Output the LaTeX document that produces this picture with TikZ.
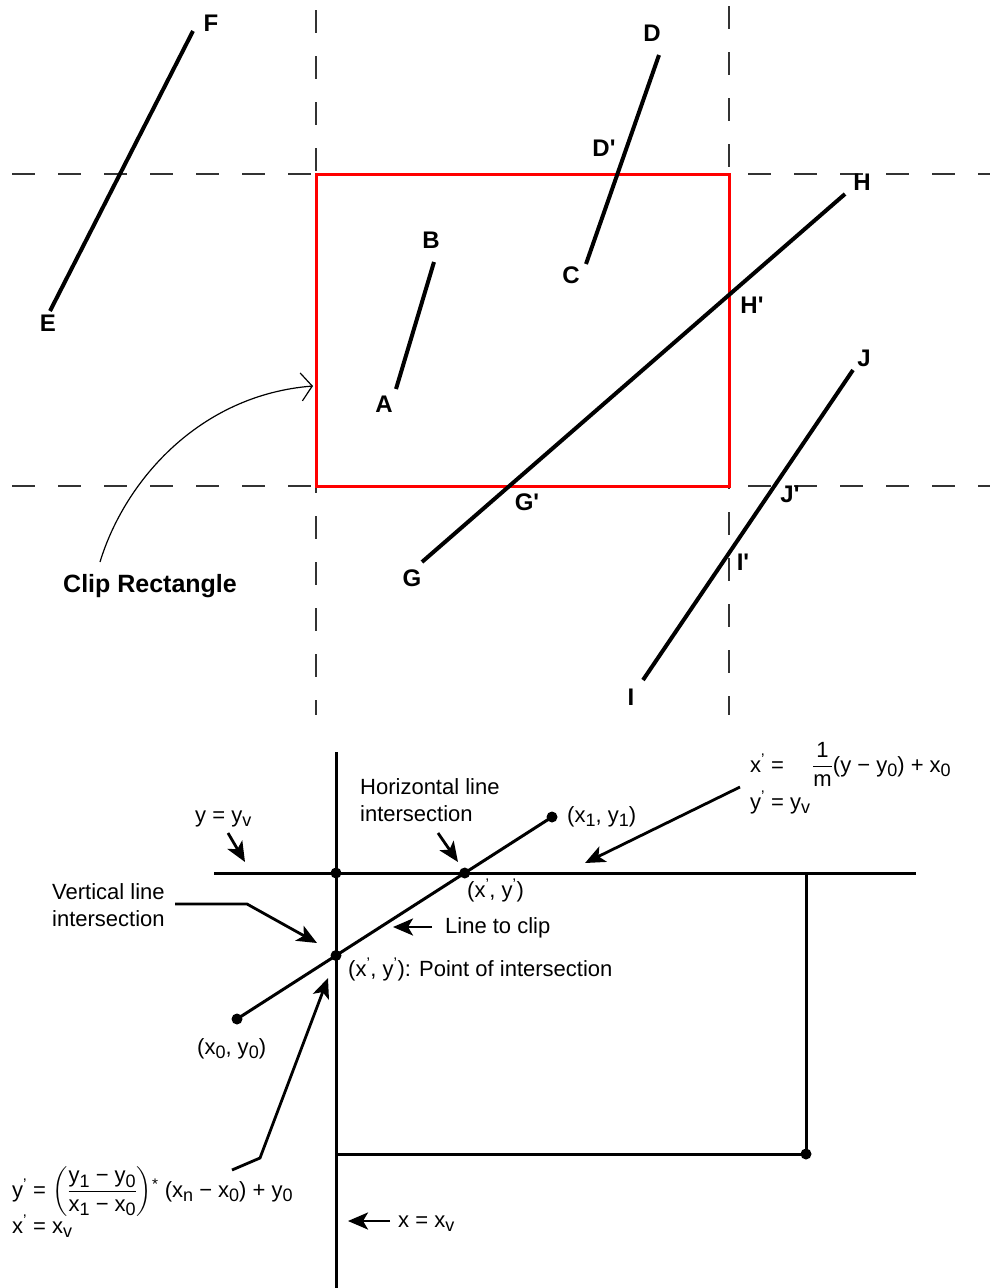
\documentclass[tikz,border=0pt]{standalone}
\usepackage{amsmath}
\usepackage{fontspec}
\setmainfont{Liberation Sans}
\usetikzlibrary{arrows.meta, calc}
\newcommand{\lowsub}[1]{\raisebox{-0.4ex}{\fontsize{18}{20}\selectfont #1}}
\newcommand{\tick}{\textsuperscript{'}}
\tikzset{
  ptlabel/.style={font=\fontsize{24}{28}\selectfont\bfseries, inner sep=0pt},
  segment/.style={line width=4pt, black},
  guide/.style={line width=1.8pt, black!80, dash pattern=on 23pt off 23pt},
  cliprect/.style={line width=3pt, red},
  edge/.style={line width=3pt, black},
  note/.style={font=\fontsize{22}{27}\selectfont, inner sep=0pt},
  notes/.style={note, align=left},
  pointer/.style={line width=2.8pt, -{Stealth[length=20pt, width=17pt, inset=5pt]}},
  dot/.style={circle, fill=black, inner sep=0pt, minimum size=11pt}
}

\begin{document}
\begin{tikzpicture}[x=1pt, y=-1pt]
  \useasboundingbox (0,0) rectangle (998,1288);

  % Guide lines through the window edges
  \draw [guide] (316,10) -- (316,715);
  \draw [guide] (729,6) -- (729,715);
  \draw [guide] (12,174) -- (990,174);
  \draw [guide] (12,486) -- (990,486);

  % Clip window
  \coordinate (wnw) at (316,174);
  \coordinate (wse) at (729,486);
  \draw [cliprect] (wnw) rectangle (wse);

  % Segments
  \coordinate (pA) at (396,389);
  \coordinate (pB) at (434,262);
  \coordinate (pC) at (586,264);
  \coordinate (pD) at (659,55);
  \coordinate (pE) at (50,311);
  \coordinate (pF) at (193,31);
  \coordinate (pG) at (422,562);
  \coordinate (pH) at (845,194);
  \coordinate (pI) at (643,680);
  \coordinate (pJ) at (853,370);
  \draw [segment] (pA) -- (pB);
  \draw [segment] (pC) -- (pD);
  \draw [segment] (pE) -- (pF);
  \draw [segment] (pG) -- (pH);
  \draw [segment] (pI) -- (pJ);

  % End point and crossing labels
  \node (A) [ptlabel] at (384,404) {A};
  \node (B) [ptlabel] at (431,240) {B};
  \node (C) [ptlabel] at (571,275) {C};
  \node (D) [ptlabel] at (652,33) {D};
  \node (Dp) [ptlabel] at (604,148) {D\textquotesingle};
  \node (E) [ptlabel] at (48,323) {E};
  \node (F) [ptlabel] at (211,23) {F};
  \node (G) [ptlabel] at (412,578) {G};
  \node (Gp) [ptlabel] at (527,502) {G\textquotesingle};
  \node (H) [ptlabel] at (862,182) {H};
  \node (Hp) [ptlabel] at (752,305) {H\textquotesingle};
  \node (I) [ptlabel] at (631,697) {I};
  \node (Ip) [ptlabel] at (743,562) {I\textquotesingle};
  \node (J) [ptlabel] at (864,358) {J};
  \node (Jp) [ptlabel] at (790,494) {J\textquotesingle};

  \node (cliplbl) [ptlabel, anchor=base west, font=\fontsize{25}{28}\selectfont\bfseries] at (63,592) {Clip Rectangle};
  \coordinate (clipout) at (100,562);
  \coordinate (clipin) at (313,386);
  \draw [line width=1.2pt, -{Straight Barb[length=11pt, width=28pt]}] (clipout) .. controls (125,480) and (200,395) .. (clipin);

  % Window edges of the second sketch
  \coordinate (vtop) at (336,752);
  \coordinate (vbot) at (336,1288);
  \coordinate (hleft) at (214,873);
  \coordinate (hright) at (916,873);
  \coordinate (rtop) at (806,873);
  \coordinate (blc) at (336,1154);
  \draw [edge] (vtop) -- (vbot);
  \draw [edge] (hleft) -- (hright);
  \node (corner) [dot] at (336,873) {};
  \node (brc) [dot] at (806,1154) {};
  \draw [edge] (rtop) -- (brc.center) -- (blc);

  % Line to clip
  \node (d0) [dot] at (237,1019) {};
  \node (d1) [dot] at (552,817) {};
  \draw [edge] (d0.center) -- (d1.center);
  \node (hcut) [dot] at (464.7,873) {};
  \node (vcut) [dot] at (336,955.5) {};

  % Labels
  \node (hnote) [notes, anchor=north west] at (360,778) {Horizontal line\\intersection};
  \node (vnote) [notes, anchor=north west] at (52,883) {Vertical line\\intersection};
  \node (yveq) [note, anchor=base west] at (195,822) {y = y\lowsub{v}};
  \node (p1lbl) [note, anchor=base west] at (567,822) {(x\lowsub{1}, y\lowsub{1})};
  \node (p0lbl) [note, anchor=base west] at (197,1054) {(x\lowsub{0}, y\lowsub{0})};
  \node (hcutlbl) [note, anchor=base west] at (467,897) {(x\tick, y\tick)};
  \node (linelbl) [note, anchor=base west] at (445,933) {Line to clip};
  \node (vcutlbl) [note, anchor=base west] at (348,976) {(x\tick, y\tick): Point of intersection};
  \node (xveq) [note, anchor=base west] at (398,1227) {x = x\lowsub{v}};
  \node (xhform) [note, anchor=base west] at (750,772) {x\tick\ =\quad\ $\dfrac{\mbox{1}}{\mbox{m}}$(y − y\lowsub{0}) + x\lowsub{0}};
  \node (yhform) [note, anchor=base west] at (750,809) {y\tick\ = y\lowsub{v}};
  \node (yvform) [note, anchor=base west] at (12,1197) {y\tick\ = $\left(\dfrac{\mbox{y\lowsub{1} − y\lowsub{0}}}{\mbox{x\lowsub{1} − x\lowsub{0}}}\right)$\textsuperscript{*} (x\lowsub{n} − x\lowsub{0}) + y\lowsub{0}};
  \node (xvform) [note, anchor=base west] at (12,1233) {x\tick\ = x\lowsub{v}};

  % Pointers
  \coordinate (yvtail) at (228,833);
  \coordinate (yvtip) at (245,862);
  \coordinate (htail) at (438,833);
  \coordinate (htip) at (458,862);
  \coordinate (vtail) at (175,904);
  \coordinate (vbend) at (247,904);
  \coordinate (vtip) at (317,943);
  \coordinate (linetail) at (432,927);
  \coordinate (linetip) at (393,927);
  \coordinate (xhtail) at (740,787);
  \coordinate (xhtip) at (585,863);
  \coordinate (slopetail) at (232,1170);
  \coordinate (slopebend) at (260,1158);
  \coordinate (slopetip) at (328,978);
  \coordinate (xvtail) at (390,1221);
  \coordinate (xvtip) at (348,1221);
  \draw [pointer] (yvtail) -- (yvtip);
  \draw [pointer] (htail) -- (htip);
  \draw [pointer] (vtail) -- (vbend) -- (vtip);
  \draw [pointer] (linetail) -- (linetip);
  \draw [pointer] (xhtail) -- (xhtip);
  \draw [pointer] (slopetail) -- (slopebend) -- (slopetip);
  \draw [pointer] (xvtail) -- (xvtip);
\end{tikzpicture}
\end{document}
